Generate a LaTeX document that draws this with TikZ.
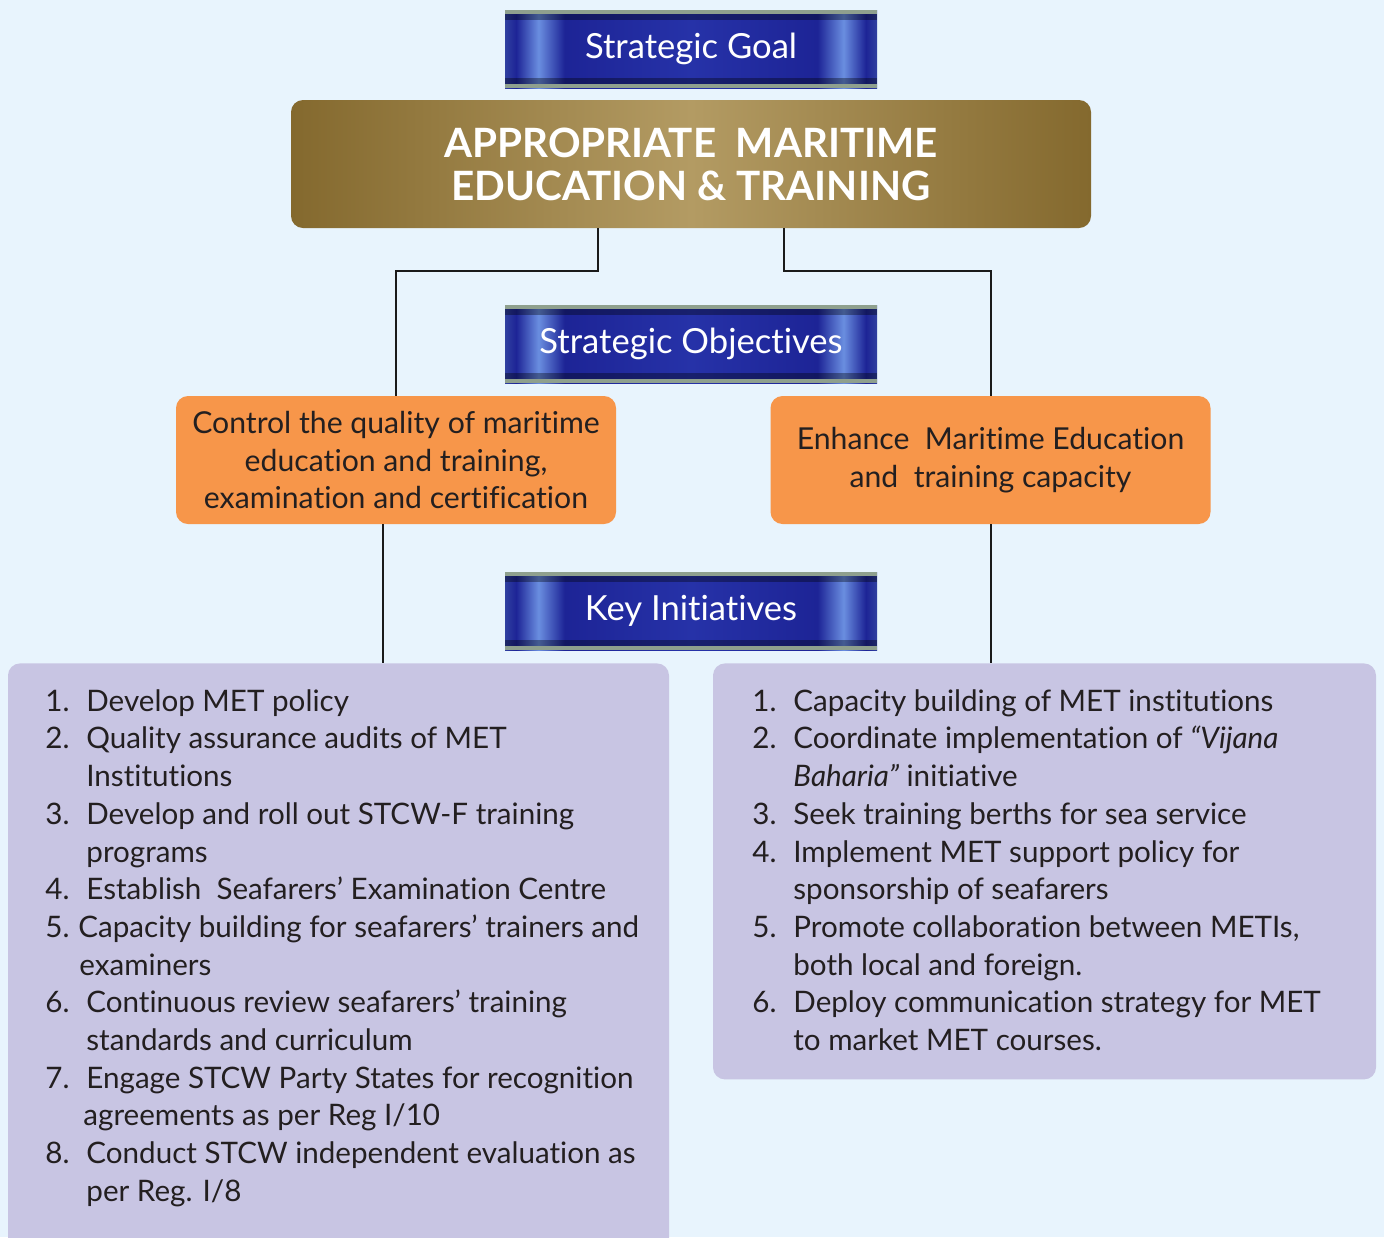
\documentclass[tikz,border=0pt]{standalone}
\usepackage{fontspec}
\setmainfont{Lato}[Ligatures={TeX,NoCommon}]
\usetikzlibrary{positioning,calc}

\definecolor{bgblue}{HTML}{E8F4FD}
\definecolor{bnDark}{HTML}{3040A0}
\definecolor{bnNavy}{HTML}{1D2496}
\definecolor{bnMid}{HTML}{2632A8}
\definecolor{bnLight}{HTML}{6A8EE0}
\definecolor{bnRim}{HTML}{8FA08E}
\definecolor{gdDark}{HTML}{84692E}
\definecolor{gdLight}{HTML}{B39B63}
\definecolor{objorange}{HTML}{F7964A}
\definecolor{initlilac}{HTML}{C8C5E3}
\definecolor{textdark}{HTML}{231F20}
\definecolor{linkdark}{HTML}{1A1A1A}

\pgfdeclarehorizontalshading{bannershade}{100bp}{color(0bp)=(bnDark); color(25bp)=(bnDark);
  color(26.5bp)=(bnNavy); color(29.5bp)=(bnLight); color(33bp)=(bnNavy); color(50bp)=(bnMid);
  color(67bp)=(bnNavy); color(70.5bp)=(bnLight); color(73.5bp)=(bnNavy); color(75bp)=(bnDark);
  color(100bp)=(bnDark)}

% list helpers
\newcommand{\inum}[2][20.5pt]{\makebox[#1][l]{#2}}
\newcommand{\indline}[1][20.5pt]{\hspace*{#1}}

\begin{document}
\begin{tikzpicture}[x=0.5pt,y=-0.5pt,
  banner/.style={shading=bannershade,text=white,minimum width=186pt,minimum height=39pt,
    inner sep=0pt,font=\fontsize{17.3}{20}\selectfont,
    path picture={
      \fill[black,opacity=.35] (path picture bounding box.north west) rectangle ([yshift=-5pt]path picture bounding box.north east);
      \fill[black,opacity=.35] (path picture bounding box.south west) rectangle ([yshift=5pt]path picture bounding box.south east);
      \fill[bnRim] (path picture bounding box.north west) rectangle ([yshift=-2pt]path picture bounding box.north east);
      \fill[bnRim] (path picture bounding box.south west) rectangle ([yshift=2pt]path picture bounding box.south east);}},
  goldbox/.style={left color=gdDark,right color=gdDark,middle color=gdLight,rounded corners=6pt,
    minimum width=400pt,minimum height=64pt,align=center,text=white,inner sep=0pt,
    font=\fontsize{20.2}{21.5}\selectfont\bfseries},
  objbox/.style={fill=objorange,rounded corners=6pt,minimum width=220pt,minimum height=64pt,
    align=center,text=textdark,inner sep=0pt,font=\fontsize{15.1}{18.75}\selectfont},
  initbox/.style={fill=initlilac,rounded corners=6pt,inner sep=0pt},
  listtext/.style={align=left,inner sep=0pt,text=textdark,font=\fontsize{14.8}{18.85}\selectfont},
  link/.style={draw=linkdark,line width=1pt}]

\fill[bgblue] (0,0) rectangle (1384,1237);
\useasboundingbox (0,0) rectangle (1384,1237);

% goal
\node[banner] (goalban) at (691,49) {Strategic Goal};
\node[goldbox] (goal) at (691,164) {APPROPRIATE\ \ MARITIME\\EDUCATION \& TRAINING};

% objectives
\node[banner] (objban) at (691,344) {Strategic Objectives};
\node[objbox] (objL) at (396,460) {Control the quality of maritime\\education and training,\\examination and certification};
\node[objbox] (objR) at (990.5,460) {Enhance\ \ Maritime Education\\and\ \ training capacity};

% initiatives
\node[banner] (keyban) at (691,611) {Key Initiatives};
\node[initbox,minimum width=330.5pt,minimum height=300pt,anchor=north] (initL) at (338.5,663) {};
\node[initbox,minimum width=331.5pt,minimum height=208pt,anchor=north] (initR) at (1044.5,663) {};

\coordinate (jL) at (598,271);
\coordinate (jR) at (784,271);
\coordinate (dL) at (383,0);
\draw[link] (goal.south -| jL) -- (jL) -| (objL.north);
\draw[link] (goal.south -| jR) -- (jR) -| (objR.north);
\draw[link] (objL.south -| dL) -- (initL.north -| dL);
\draw[link] (objR.south) -- (initR.north -| objR.south);

\node[listtext,anchor=north west] (listL) at (45,689) {%
  \inum{1.}Develop MET policy\\
  \inum{2.}Quality assurance audits of MET\\
  \indline Institutions\\
  \inum{3.}Develop and roll out STCW-F training\\
  \indline programs\\
  \inum{4.}Establish\ \ Seafarers' Examination Centre\\
  \inum[16.5pt]{5.}Capacity building for seafarers' trainers and\\
  \indline[17pt]examiners\\
  \inum{6.}Continuous review seafarers' training\\
  \indline standards and curriculum\\
  \inum{7.}Engage STCW Party States for recognition\\
  \indline[19pt]agreements as per Reg I/10\\
  \inum{8.}Conduct STCW independent evaluation as\\
  \indline per Reg. I/8};

\node[listtext,anchor=north west] (listR) at (752,689) {%
  \inum{1.}Capacity building of MET institutions\\
  \inum{2.}Coordinate implementation of \textit{“Vijana}\\
  \indline\textit{Baharia”} initiative\\
  \inum{3.}Seek training berths for sea service\\
  \inum{4.}Implement MET support policy for\\
  \indline sponsorship of seafarers\\
  \inum{5.}Promote collaboration between METIs,\\
  \indline both local and foreign.\\
  \inum{6.}Deploy communication strategy for MET\\
  \indline to market MET courses.};
\end{tikzpicture}
\end{document}
